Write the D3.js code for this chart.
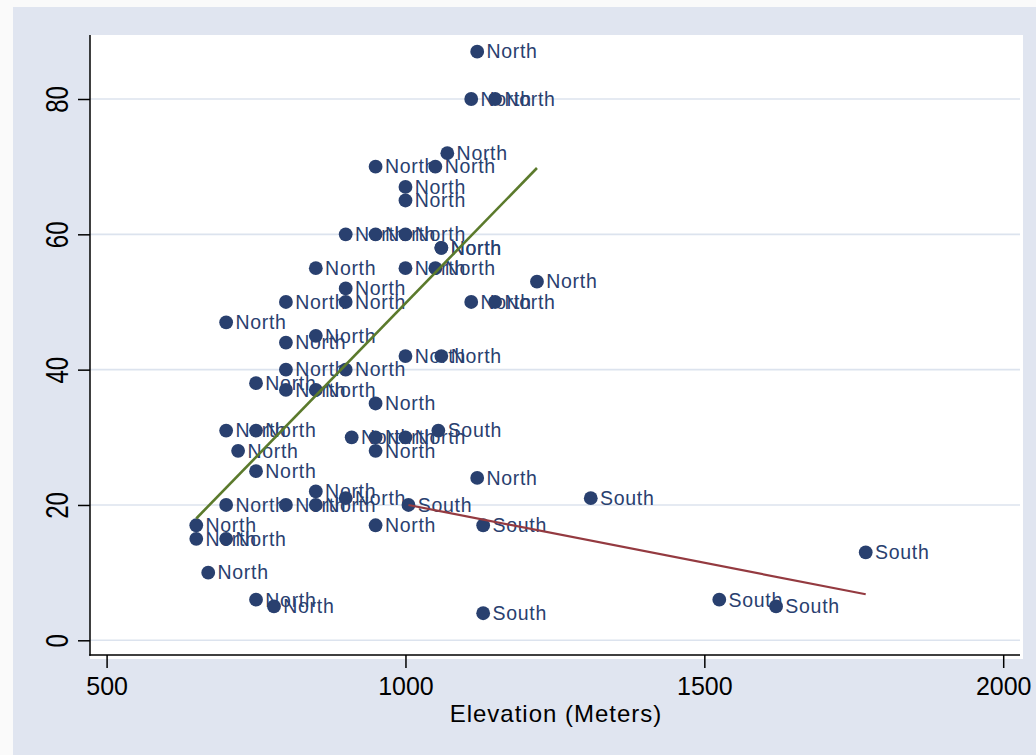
<!DOCTYPE html>
<html><head><meta charset="utf-8">
<script src="https://cdn.jsdelivr.net/npm/d3@7"></script>
<style>
body{margin:0;background:#fafafa}
svg text{font-family:"Liberation Sans",Arial,sans-serif}
</style>
</head><body>
<svg id="chart" width="1036" height="755"></svg>
<script>
// ---- data ----
const northElevation = [1120,1110,1150,1070,950,1050,1000,1000,900,950,1000,1060,1060,850,1000,1050,1220,900,800,900,1110,1150,700,850,800,1000,1060,800,900,750,800,850,950,700,750,910,950,1000,720,950,750,1120,850,900,850,700,800,950,650,650,700,670,750,780];
const northValue     = [87,80,80,72,70,70,67,65,60,60,60,58,58,55,55,55,53,52,50,50,50,50,47,45,44,42,42,40,40,38,37,37,35,31,31,30,30,30,28,28,25,24,22,21,20,20,20,17,17,15,15,10,6,5];
const southElevation = [1055,1005,1130,1310,1770,1525,1620,1130];
const southValue     = [31,20,17,21,13,6,5,4];
const northFit = [[650,18],[1220,69.8]];
const southFit = [[1005,20],[1770,6.8]];
const xTicks = [500,1000,1500,2000];
const yTicks = [0,20,40,60,80];
const xTitle = "Elevation (Meters)";

// ---- layout ----
const svg = d3.select("#chart");
const x = d3.scaleLinear().domain([500,2000]).range([106.6,1003.2]);
const y = d3.scaleLinear().domain([0,80]).range([640.3,99]);
const navy = "#29406f";

svg.append("rect").attr("x",0).attr("y",0).attr("width",1036).attr("height",755).attr("fill","#fafafa");
svg.append("rect").attr("x",13).attr("y",7).attr("width",1023).attr("height",748).attr("fill","#e0e5f0");
svg.append("rect").attr("x",90).attr("y",35).attr("width",933).attr("height",624).attr("fill","#ffffff");

// gridlines
svg.append("g").selectAll("line").data(yTicks).join("line")
  .attr("x1",90).attr("x2",1020).attr("y1",d=>y(d)).attr("y2",d=>y(d))
  .attr("stroke","#dce3ee").attr("stroke-width",1.6);

// axes
const yAxis = svg.append("g").attr("transform","translate(90,0)")
  .call(d3.axisLeft(y).tickValues(yTicks).tickSize(12).tickPadding(0).tickFormat(d3.format("d")));
yAxis.select(".domain").remove();
yAxis.selectAll(".tick line").attr("stroke","#000").attr("stroke-width",1.5);
yAxis.selectAll(".tick text")
  .attr("x",null).attr("dy",null)
  .attr("transform","translate(-22,0) rotate(-90) scale(1,1.28)")
  .attr("text-anchor","middle").attr("fill","#000").style("font-size","24px");

const xAxis = svg.append("g").attr("transform","translate(0,655)")
  .call(d3.axisBottom(x).tickValues(xTicks).tickSize(13).tickPadding(0).tickFormat(d3.format("d")));
xAxis.select(".domain").remove();
xAxis.selectAll(".tick line").attr("stroke","#000").attr("stroke-width",1.5);
xAxis.selectAll(".tick text").attr("y",40).attr("dy",null)
  .attr("fill","#000").style("font-size","25px");

svg.append("line").attr("x1",90).attr("x2",90).attr("y1",35).attr("y2",655.75).attr("stroke","#000").attr("stroke-width",1.5);
svg.append("line").attr("x1",89.25).attr("x2",1020).attr("y1",655).attr("y2",655).attr("stroke","#000").attr("stroke-width",1.5);

svg.append("text").attr("x",556).attr("y",722).attr("text-anchor","middle")
  .style("font-size","24px").style("letter-spacing","1px").attr("fill","#000").text(xTitle);

// points
const pts = northElevation.map((e,i)=>({e, v:northValue[i], r:"North"}))
  .concat(southElevation.map((e,i)=>({e, v:southValue[i], r:"South"})));
const order = d3.range(pts.length).sort((a,b)=>{
  const ga = pts[a].r==="South"?1:0, gb = pts[b].r==="South"?1:0;
  return ga-gb || pts[a].e-pts[b].e;
});
const g = svg.append("g");
order.forEach(i=>{
  const p = pts[i];
  g.append("circle").attr("cx",x(p.e)).attr("cy",y(p.v)).attr("r",6.9).attr("fill",navy);
  g.append("text").attr("x",x(p.e)+9.3).attr("y",y(p.v)+6.8)
    .style("font-size","19.5px").style("letter-spacing","0.7px").attr("fill",navy).text(p.r);
});

// fit lines
const line = d3.line().x(d=>x(d[0])).y(d=>y(d[1]));
svg.append("path").attr("d",line(northFit)).attr("fill","none").attr("stroke","#5b7a2c").attr("stroke-width",2.6);
svg.append("path").attr("d",line(southFit)).attr("fill","none").attr("stroke","#943a40").attr("stroke-width",2.2);
</script>
</body></html>
